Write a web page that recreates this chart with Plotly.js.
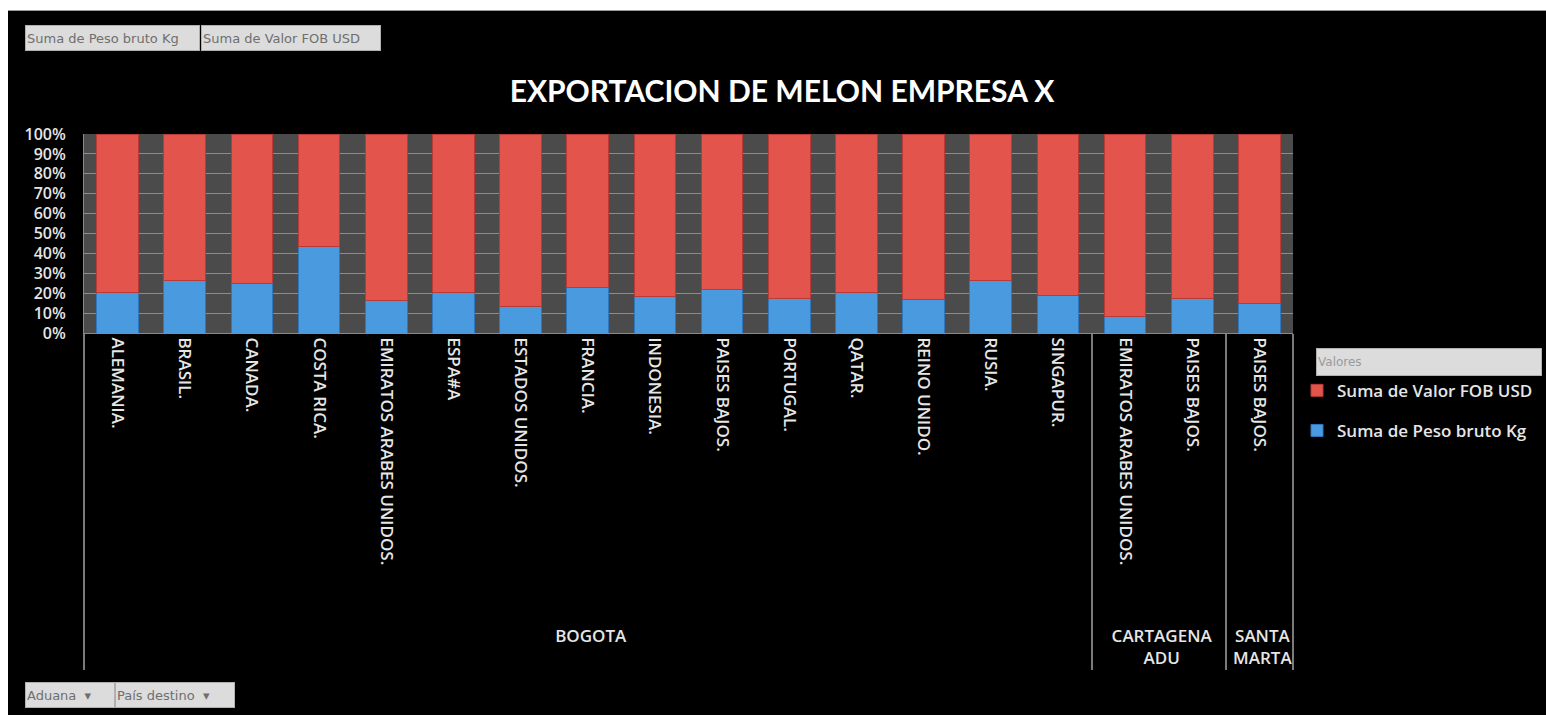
<!DOCTYPE html>
<html>
<head>
<meta charset="utf-8">
<script src="https://cdn.plot.ly/plotly-3.0.1.min.js"></script>
<style>
  html, body { margin: 0; padding: 0; background: #ffffff; }
  #wrap { position: absolute; left: 8px; top: 10px; width: 1538px; height: 705px; background: #000; border-top: 1px solid #9a9a9a; }
  #chart { width: 1538px; height: 705px; }
</style>
</head>
<body>
<div id="wrap"><div id="chart"></div></div>
<script>
// Aduana (outer group) and País destino (inner category)
const aduanas = ["<br><br>BOGOTA","<br><br>BOGOTA","<br><br>BOGOTA","<br><br>BOGOTA","<br><br>BOGOTA","<br><br>BOGOTA","<br><br>BOGOTA","<br><br>BOGOTA","<br><br>BOGOTA","<br><br>BOGOTA","<br><br>BOGOTA","<br><br>BOGOTA","<br><br>BOGOTA","<br><br>BOGOTA","<br><br>BOGOTA","<br><br>CARTAGENA<br>ADU","<br><br>CARTAGENA<br>ADU","<br><br>SANTA<br>MARTA"];
const paises = ["ALEMANIA.","BRASIL.","CANADA.","COSTA RICA.","EMIRATOS ARABES UNIDOS.","ESPA#A","ESTADOS UNIDOS.","FRANCIA.","INDONESIA.","PAISES BAJOS.","PORTUGAL.","QATAR.","REINO UNIDO.","RUSIA.","SINGAPUR.","EMIRATOS ARABES UNIDOS.","PAISES BAJOS.","PAISES BAJOS."];
// Share of each measure (percent of 100% stacked column)
const pesoBrutoPct = [20.5, 26.4, 24.9, 43.7, 16.3, 20.2, 13.4, 23.0, 18.1, 21.9, 17.1, 20.2, 16.8, 26.4, 18.8, 8.1, 17.3, 14.6];
const valorFobPct  = [79.5, 73.6, 75.1, 56.3, 83.7, 79.8, 86.6, 77.0, 81.9, 78.1, 82.9, 79.8, 83.2, 73.6, 81.2, 91.9, 82.7, 85.4];
const yTicks = [0,10,20,30,40,50,60,70,80,90,100];

const FONT = "'Open Sans', Lato, sans-serif";
const TXT = "#e6e6e6";

const traces = [
  {
    type: "bar", name: "Suma de Peso bruto Kg",
    x: [aduanas, paises], y: pesoBrutoPct,
    marker: { color: "#4a9ae0", line: { color: "#2f78bd", width: 1 } },
    legendgroup: "a", legendrank: 2, hoverinfo: "y+name"
  },
  {
    type: "bar", name: "Suma de Valor FOB USD",
    x: [aduanas, paises], y: valorFobPct,
    marker: { color: "#e2544c", line: { color: "#b93b35", width: 1 } },
    legendgroup: "b", legendrank: 1, hoverinfo: "y+name"
  }
];

function btn(text, xPx, yPx, w) {
  return {
    xref: "paper", yref: "paper",
    x: (xPx - 84) / 1209, y: (332 - yPx) / 199,
    xanchor: "left", yanchor: "middle",
    text: text, showarrow: false, align: "left",
    width: w, height: 22,
    bgcolor: "#dcdcdc", bordercolor: "#b0b0b0", borderwidth: 1, borderpad: 1,
    font: { family: "'DejaVu Sans', sans-serif", size: 13, color: "#6f6f6f" }
  };
}

const layout = {
  width: 1538, height: 705,
  paper_bgcolor: "#000000", plot_bgcolor: "#4b4b4b",
  margin: { l: 76, r: 253, t: 123, b: 383, autoexpand: false },
  barmode: "stack", bargap: 0.38,
  showlegend: true,
  font: { family: FONT, color: TXT },
  title: {
    text: "<b>EXPORTACION DE MELON EMPRESA X</b>",
    font: { family: "Lato, sans-serif", size: 30, color: "#ffffff" },
    x: (782 - 84) / 1209, xanchor: "center", xref: "paper",
    y: 1 - (90 - 10) / 705, yanchor: "middle", yref: "container"
  },
  xaxis: {
    type: "multicategory",
    tickangle: 90,
    tickfont: { family: FONT, size: 17, color: TXT, weight: 600 },
    showdividers: true, dividercolor: "#7a7a7a", dividerwidth: 2,
    showline: true, linecolor: "#8a8a8a", linewidth: 1,
    ticks: "", showgrid: false
  },
  yaxis: {
    range: [0, 100], tickvals: yTicks, ticktext: yTicks.map(v => v + "%"),
    ticklabelstandoff: 14,
    tickfont: { family: FONT, size: 16, color: TXT, weight: 600 },
    gridcolor: "#8c8c8c", gridwidth: 1,
    showline: true, linecolor: "#8a8a8a", zeroline: false, ticks: "",
    fixedrange: true
  },
  legend: {
    x: (1297 - 84) / 1209, xanchor: "left", y: -0.2, yanchor: "top",
    traceorder: "grouped", tracegroupgap: 15,
    font: { family: FONT, size: 17, color: TXT, weight: 600 },
    bgcolor: "rgba(0,0,0,0)", itemwidth: 30
  },
  annotations: [
    btn("Suma de Peso bruto Kg", 25, 37, 171),
    btn("Suma de Valor FOB USD", 201, 37, 176),
    btn("Aduana  ▾", 25, 694, 86),
    btn("País destino  ▾", 115, 694, 116),
    Object.assign(btn("Valores", 1316, 361, 222), { font: { family: "'DejaVu Sans', sans-serif", size: 12, color: "#9a9a9a" }, height: 24 })
  ]
};

Plotly.newPlot("chart", traces, layout, { displayModeBar: false, staticPlot: true });
</script>
</body>
</html>
